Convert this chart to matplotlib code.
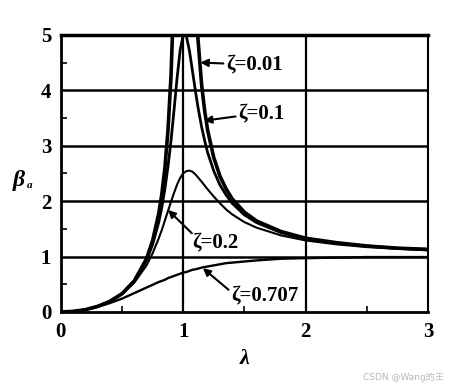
import numpy as np
import matplotlib.pyplot as plt

# 频率比 λ 取样点
lam = [0, 0.1, 0.2, 0.3, 0.4, 0.5, 0.6, 0.7, 0.75, 0.8, 0.825, 0.85, 0.875, 0.9, 0.925, 0.95, 0.975,
       1.0, 1.025, 1.05, 1.075, 1.1, 1.12, 1.15, 1.175, 1.2, 1.25, 1.3, 1.35, 1.4, 1.5, 1.6, 1.8,
       2.0, 2.25, 2.5, 2.75, 3.0]

# β_a 读图值
beta_001 = [0, 0.01, 0.04, 0.10, 0.19, 0.33, 0.56, 0.96, 1.29, 1.78, 2.13, 2.60, 3.27, 4.26, 5.88, 9.09, 19.5,
            50.0, 20.5, 10.54, 7.36, 5.76, 4.93, 4.10, 3.63, 3.27, 2.78, 2.45, 2.22, 2.04, 1.80, 1.64, 1.45,
            1.33, 1.25, 1.19, 1.15, 1.13]
beta_01 = [0, 0.01, 0.04, 0.10, 0.19, 0.33, 0.55, 0.93, 1.22, 1.62, 1.89, 2.22, 2.62, 3.09, 3.65, 4.23, 4.73,
           5.00, 4.98, 4.72, 4.35, 3.98, 3.70, 3.34, 3.09, 2.87, 2.54, 2.29, 2.11, 1.96, 1.75, 1.61, 1.43,
           1.32, 1.24, 1.19, 1.15, 1.12]
beta_02 = [0, 0.01, 0.04, 0.10, 0.19, 0.32, 0.53, 0.84, 1.06, 1.33, 1.48, 1.65, 1.82, 1.99, 2.15, 2.30, 2.42,
           2.50, 2.54, 2.55, 2.53, 2.48, 2.43, 2.35, 2.28, 2.21, 2.08, 1.96, 1.85, 1.76, 1.62, 1.52, 1.38,
           1.29, 1.22, 1.17, 1.14, 1.11]
beta_0707 = [0, 0.01, 0.04, 0.09, 0.16, 0.24, 0.34, 0.44, 0.49, 0.54, 0.56, 0.58, 0.61, 0.63, 0.65, 0.67, 0.69,
             0.71, 0.72, 0.74, 0.76, 0.77, 0.78, 0.80, 0.81, 0.82, 0.84, 0.86, 0.88, 0.89, 0.91, 0.93, 0.96,
             0.97, 0.98, 0.99, 0.99, 0.99]

labels = ['ζ=0.01', 'ζ=0.1', 'ζ=0.2', 'ζ=0.707']
xticks = [0, 1, 2, 3]
yticks = [0, 1, 2, 3, 4, 5]

plt.rcParams['font.family'] = ['Liberation Serif', 'DejaVu Serif']
plt.rcParams['font.weight'] = 'bold'

fig = plt.figure(figsize=(4.51, 3.87), dpi=100)
ax = fig.add_axes([0.135, 0.194, 0.814, 0.716])

# 网格线
for y in [1, 2, 3, 4]:
    ax.axhline(y, color='black', lw=1.8, zorder=1)
for x in [1, 2]:
    ax.axvline(x, color='black', lw=1.6, zorder=1)

ax.plot(lam, beta_001, color='black', lw=2.6, zorder=3)
ax.plot(lam, beta_01, color='black', lw=2.0, zorder=3)
ax.plot(lam, beta_02, color='black', lw=1.5, zorder=3)
ax.plot(lam, beta_0707, color='black', lw=1.7, zorder=3)

ax.set_xlim(0, 3)
ax.set_ylim(0, 5)
ax.set_xticks(xticks)
ax.set_yticks(yticks)
ax.set_xticks([0.5, 1.5, 2.5], minor=True)
ax.set_yticks([0.5, 1.5, 2.5, 3.5, 4.5], minor=True)
ax.tick_params(which='major', length=0, labelsize=15, pad=7)
ax.tick_params(which='minor', direction='in', length=4, width=1.2)
for lb in ax.get_xticklabels() + ax.get_yticklabels():
    lb.set_fontweight('bold')

ax.spines['top'].set_linewidth(2.5)
ax.spines['left'].set_linewidth(2.0)
ax.spines['bottom'].set_linewidth(2.0)
ax.spines['right'].set_linewidth(1.5)

ax.set_xlabel('λ', fontsize=16, fontweight='bold', style='italic', labelpad=5)
# β_a 纵轴标签
ax.text(-0.114, 0.476, 'β', transform=ax.transAxes, fontsize=17, fontweight='bold',
        style='italic', ha='center', va='center')
ax.text(-0.085, 0.458, 'a', transform=ax.transAxes, fontsize=8, fontweight='bold',
        style='italic', ha='center', va='center')

arw = dict(arrowstyle='-|>', color='black', lw=1.5, mutation_scale=11, shrinkA=0, shrinkB=0)
tk = dict(fontsize=15, fontweight='bold', va='center', ha='left')
ax.annotate(labels[0], xy=(1.14, 4.5), xytext=(1.35, 4.46), arrowprops=arw, **tk)
ax.annotate(labels[1], xy=(1.17, 3.45), xytext=(1.45, 3.59), arrowprops=arw, **tk)
ax.annotate('', xy=(0.875, 1.84), xytext=(1.07, 1.42), arrowprops=arw)
ax.text(1.07, 1.26, labels[2], **tk)
ax.annotate('', xy=(1.16, 0.79), xytext=(1.37, 0.40), arrowprops=arw)
ax.text(1.39, 0.30, labels[3], **tk)

fig.text(0.985, 0.012, 'CSDN @Wang的王', ha='right', va='bottom', fontsize=6.5,
         color='#b8b8b8', family=['DejaVu Sans', 'Noto Sans CJK SC'], fontweight='normal')

fig.savefig('out.png', dpi=100)
